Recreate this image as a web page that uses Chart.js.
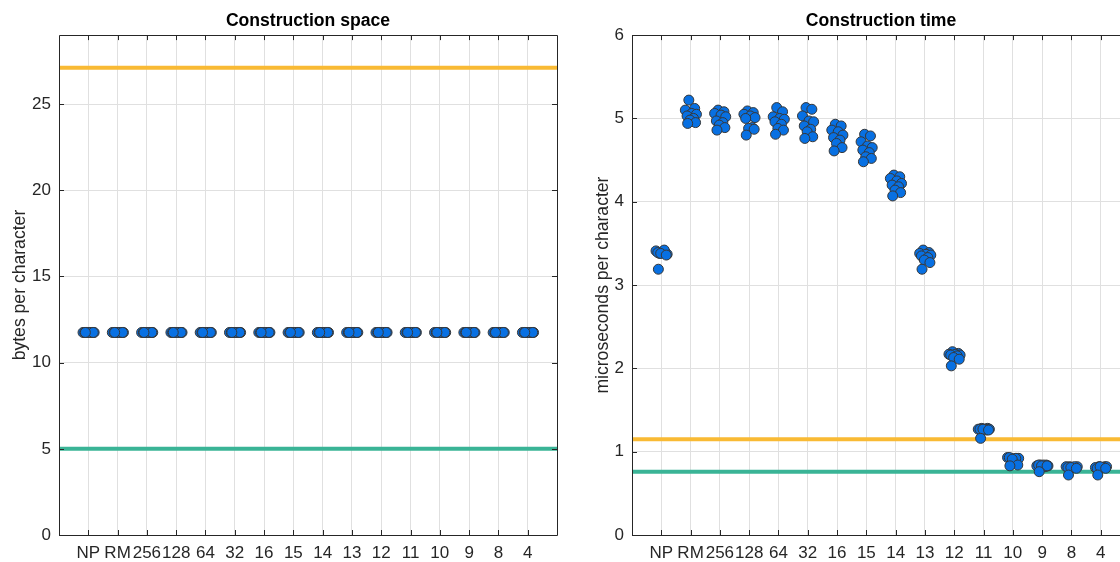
<!DOCTYPE html>
<html>
<head>
<meta charset="utf-8">
<script src="https://cdn.jsdelivr.net/npm/chart.js@4.4.1/dist/chart.umd.min.js"></script>
<style>
  html, body { margin: 0; padding: 0; background: #fff; overflow: hidden; }
  #wrap { position: relative; width: 1120px; height: 562px; overflow: hidden; }
  canvas { position: absolute; top: 0; }
  #space_chart { left: 0; }
  #time_chart { left: 573px; }
</style>
</head>
<body>
<div id="wrap">
  <canvas id="space_chart" width="580" height="562"></canvas>
  <canvas id="time_chart" width="580" height="562"></canvas>
</div>
<script>
const categories = ["NP", "RM", "256", "128", "64", "32", "16", "15", "14", "13", "12", "11", "10", "9", "8", "4"];

// horizontal spread of the repeated runs inside one category
const jitter = [-0.06, 0.14, -0.18, 0.04, 0.2, -0.12, 0.1, -0.02, 0.17, -0.1];

// bytes per character, 10 runs per category
const spaceValues = [
  [11.75, 11.75, 11.75, 11.75, 11.75, 11.75, 11.75, 11.75, 11.75, 11.75],
  [11.75, 11.75, 11.75, 11.75, 11.75, 11.75, 11.75, 11.75, 11.75, 11.75],
  [11.75, 11.75, 11.75, 11.75, 11.75, 11.75, 11.75, 11.75, 11.75, 11.75],
  [11.75, 11.75, 11.75, 11.75, 11.75, 11.75, 11.75, 11.75, 11.75, 11.75],
  [11.75, 11.75, 11.75, 11.75, 11.75, 11.75, 11.75, 11.75, 11.75, 11.75],
  [11.75, 11.75, 11.75, 11.75, 11.75, 11.75, 11.75, 11.75, 11.75, 11.75],
  [11.75, 11.75, 11.75, 11.75, 11.75, 11.75, 11.75, 11.75, 11.75, 11.75],
  [11.75, 11.75, 11.75, 11.75, 11.75, 11.75, 11.75, 11.75, 11.75, 11.75],
  [11.75, 11.75, 11.75, 11.75, 11.75, 11.75, 11.75, 11.75, 11.75, 11.75],
  [11.75, 11.75, 11.75, 11.75, 11.75, 11.75, 11.75, 11.75, 11.75, 11.75],
  [11.75, 11.75, 11.75, 11.75, 11.75, 11.75, 11.75, 11.75, 11.75, 11.75],
  [11.75, 11.75, 11.75, 11.75, 11.75, 11.75, 11.75, 11.75, 11.75, 11.75],
  [11.75, 11.75, 11.75, 11.75, 11.75, 11.75, 11.75, 11.75, 11.75, 11.75],
  [11.75, 11.75, 11.75, 11.75, 11.75, 11.75, 11.75, 11.75, 11.75, 11.75],
  [11.75, 11.75, 11.75, 11.75, 11.75, 11.75, 11.75, 11.75, 11.75, 11.75],
  [11.75, 11.75, 11.75, 11.75, 11.75, 11.75, 11.75, 11.75, 11.75, 11.75],
];

// microseconds per character, 10 runs per category
const timeValues = [
  [3.38, 3.39, 3.41, 3.40, 3.37, 3.39, 3.42, 3.38, 3.36, 3.19],
  [5.22, 5.12, 5.10, 5.06, 5.05, 5.03, 5.00, 4.98, 4.95, 4.94],
  [5.10, 5.08, 5.06, 5.04, 5.02, 4.97, 4.95, 4.92, 4.89, 4.86],
  [5.09, 5.07, 5.05, 5.03, 5.01, 5.00, 4.89, 4.88, 4.87, 4.80],
  [5.13, 5.08, 5.02, 5.00, 4.99, 4.96, 4.93, 4.88, 4.86, 4.81],
  [5.13, 5.11, 5.03, 4.97, 4.96, 4.91, 4.87, 4.84, 4.78, 4.76],
  [4.93, 4.91, 4.86, 4.84, 4.80, 4.77, 4.74, 4.70, 4.65, 4.61],
  [4.81, 4.79, 4.72, 4.67, 4.65, 4.62, 4.59, 4.54, 4.52, 4.48],
  [4.32, 4.30, 4.28, 4.25, 4.22, 4.20, 4.18, 4.14, 4.11, 4.07],
  [3.42, 3.39, 3.38, 3.37, 3.36, 3.35, 3.33, 3.30, 3.27, 3.19],
  [2.20, 2.18, 2.17, 2.17, 2.16, 2.16, 2.15, 2.13, 2.11, 2.03],
  [1.28, 1.28, 1.27, 1.27, 1.27, 1.27, 1.26, 1.27, 1.26, 1.16],
  [0.92, 0.92, 0.93, 0.91, 0.92, 0.93, 0.92, 0.91, 0.84, 0.83],
  [0.84, 0.84, 0.83, 0.84, 0.83, 0.84, 0.82, 0.83, 0.83, 0.76],
  [0.82, 0.81, 0.82, 0.81, 0.82, 0.81, 0.82, 0.81, 0.80, 0.72],
  [0.82, 0.82, 0.81, 0.81, 0.82, 0.80, 0.81, 0.82, 0.80, 0.72],
];

// reference levels [orange, green]
const spaceRefs = [27.1, 5.0];
const timeRefs = [1.15, 0.76];

const AXIS = "rgb(38,38,38)";
Chart.defaults.font.family = "'Liberation Sans', Arial, Helvetica, sans-serif";
Chart.defaults.font.size = 17;
Chart.defaults.color = AXIS;

// matlab style box with inward ticks
const boxTicks = {
  id: "boxTicks",
  afterDraw(chart) {
    const { ctx, chartArea: a, scales } = chart;
    const al = (v) => Math.round(v) + 0.5;
    ctx.save();
    ctx.strokeStyle = AXIS;
    ctx.lineWidth = 1;
    ctx.beginPath();
    scales.x.ticks.forEach((t) => {
      if (t.value < 1 || t.value > categories.length) return;
      const px = al(scales.x.getPixelForValue(t.value));
      ctx.moveTo(px, a.bottom); ctx.lineTo(px, a.bottom - 5);
      ctx.moveTo(px, a.top); ctx.lineTo(px, a.top + 5);
    });
    scales.y.ticks.forEach((t) => {
      const py = al(scales.y.getPixelForValue(t.value));
      ctx.moveTo(a.left, py); ctx.lineTo(a.left + 5, py);
      ctx.moveTo(a.right, py); ctx.lineTo(a.right - 5, py);
    });
    ctx.rect(al(a.left), al(a.top), Math.round(a.right - a.left), Math.round(a.bottom - a.top));
    ctx.stroke();
    ctx.restore();
  },
};

function refLine(v, color) {
  return {
    type: "line",
    data: [{ x: 0, y: v }, { x: categories.length + 1, y: v }],
    borderColor: color,
    borderWidth: 4,
    pointRadius: 0,
    showLine: true,
    order: 2,
  };
}

function makeChart(el, title, ylabel, values, refs, yMax, yStep, titlePad) {
  const points = [];
  values.forEach((row, i) => {
    row.forEach((v, j) => points.push({ x: i + 1 + jitter[j], y: v }));
  });

  return new Chart(document.getElementById(el), {
    type: "scatter",
    data: {
      datasets: [
        {
          data: points,
          backgroundColor: "rgb(8,112,226)",
          borderColor: "rgb(55,55,55)",
          borderWidth: 1,
          pointRadius: 5,
          order: 0,
        },
        refLine(refs[0], "rgb(249,186,52)"),
        refLine(refs[1], "rgb(58,180,150)"),
      ],
    },
    options: {
      responsive: false,
      animation: false,
      layout: { padding: { left: 0, right: 23, top: 0, bottom: 0 } },
      scales: {
        x: {
          type: "linear",
          min: 0,
          max: categories.length + 1,
          grid: { color: "rgb(224,224,224)", drawTicks: false },
          border: { display: false },
          ticks: {
            stepSize: 1,
            autoSkip: false,
            maxRotation: 0,
            padding: 8,
            callback: (v) => categories[v - 1] || "",
          },
          afterFit: (s) => { s.height = 27; },
        },
        y: {
          min: 0,
          max: yMax,
          grid: { color: "rgb(224,224,224)", drawTicks: false },
          border: { display: false },
          ticks: { stepSize: yStep, includeBounds: false, padding: 8 },
          title: {
            display: true,
            text: ylabel,
            font: { size: 17.6 },
            padding: { top: titlePad, bottom: 0 },
          },
          afterFit: (s) => { s.width = 59; },
        },
      },
      plugins: {
        legend: { display: false },
        tooltip: { enabled: false },
        title: {
          display: true,
          text: title,
          fullSize: false,
          color: "#000",
          font: { size: 17.6, weight: "bold" },
          padding: { top: 11, bottom: 3 },
        },
      },
    },
    plugins: [boxTicks],
  });
}

makeChart("space_chart", "Construction space", "bytes per character", spaceValues, spaceRefs, 29, 5, 9.5);
makeChart("time_chart", "Construction time", "microseconds per character", timeValues, timeRefs, 6, 1, 20);
</script>
</body>
</html>
